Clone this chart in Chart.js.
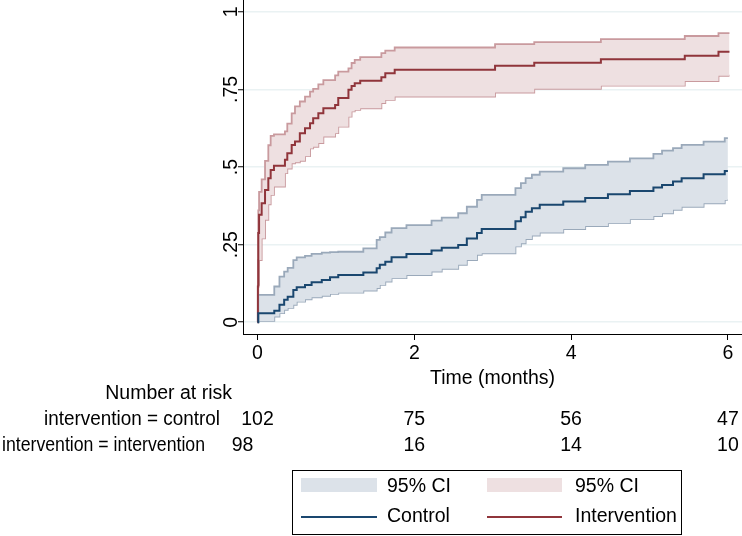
<!DOCTYPE html>
<html>
<head>
<meta charset="utf-8">
<script src="https://cdn.jsdelivr.net/npm/chart.js@4.4.0/dist/chart.umd.min.js"></script>
<style>
  html, body { margin: 0; padding: 0; background: #fff; }
</style>
</head>
<body>
<canvas id="km" width="742" height="536"></canvas>
<script>
// Control group: cumulative incidence with 95% CI
const ctrlTime = [0, 0.01, 0.214, 0.28, 0.34, 0.385, 0.457, 0.5, 0.606, 0.69, 0.82, 0.925, 1.03, 1.35, 1.52, 1.56, 1.63, 1.71, 1.9, 2.22, 2.35, 2.56, 2.67, 2.8, 2.86, 3.29, 3.36, 3.42, 3.5, 3.6, 3.9, 4.18, 4.47, 4.75, 5.05, 5.16, 5.3, 5.41, 5.69, 5.96, 6.0];
const ctrlEst = [0, 0.029, 0.037, 0.056, 0.072, 0.082, 0.104, 0.113, 0.12, 0.129, 0.136, 0.145, 0.152, 0.16, 0.174, 0.185, 0.195, 0.209, 0.22, 0.231, 0.24, 0.249, 0.27, 0.287, 0.30, 0.325, 0.338, 0.356, 0.367, 0.378, 0.389, 0.40, 0.412, 0.423, 0.434, 0.442, 0.453, 0.464, 0.477, 0.487, 0.487];
const ctrlHi = [0, 0.088, 0.115, 0.147, 0.163, 0.175, 0.2, 0.209, 0.214, 0.22, 0.224, 0.226, 0.227, 0.238, 0.265, 0.274, 0.289, 0.303, 0.313, 0.327, 0.337, 0.351, 0.372, 0.394, 0.41, 0.432, 0.448, 0.464, 0.475, 0.485, 0.496, 0.507, 0.517, 0.528, 0.542, 0.553, 0.561, 0.571, 0.582, 0.593, 0.593];
const ctrlLo = [0, 0.004, 0.018, 0.029, 0.04, 0.046, 0.056, 0.066, 0.074, 0.08, 0.085, 0.091, 0.095, 0.102, 0.11, 0.12, 0.131, 0.142, 0.152, 0.163, 0.172, 0.185, 0.2, 0.217, 0.222, 0.244, 0.254, 0.268, 0.279, 0.289, 0.3, 0.31, 0.319, 0.332, 0.342, 0.351, 0.362, 0.372, 0.383, 0.394, 0.394];

// Intervention group
const intTime = [0, 0.005, 0.01, 0.02, 0.053, 0.096, 0.138, 0.168, 0.21, 0.35, 0.38, 0.436, 0.478, 0.54, 0.606, 0.67, 0.71, 0.776, 0.84, 0.99, 1.03, 1.16, 1.2, 1.24, 1.31, 1.58, 1.63, 1.75, 3.03, 3.53, 4.38, 5.45, 5.88, 6.02];
const intEst = [0, 0.115, 0.287, 0.346, 0.383, 0.426, 0.464, 0.49, 0.504, 0.523, 0.544, 0.571, 0.582, 0.609, 0.625, 0.641, 0.657, 0.673, 0.689, 0.70, 0.722, 0.749, 0.761, 0.77, 0.778, 0.789, 0.802, 0.813, 0.826, 0.836, 0.847, 0.858, 0.871, 0.871];
const intHi = [0, 0.2, 0.36, 0.42, 0.46, 0.52, 0.57, 0.6, 0.605, 0.615, 0.64, 0.673, 0.695, 0.711, 0.727, 0.743, 0.752, 0.766, 0.78, 0.795, 0.807, 0.818, 0.835, 0.845, 0.854, 0.867, 0.875, 0.885, 0.896, 0.902, 0.912, 0.922, 0.931, 0.931];
const intLo = [0, 0.03, 0.12, 0.2, 0.27, 0.33, 0.38, 0.41, 0.437, 0.48, 0.495, 0.512, 0.515, 0.52, 0.535, 0.56, 0.565, 0.577, 0.598, 0.609, 0.63, 0.662, 0.679, 0.684, 0.689, 0.706, 0.716, 0.727, 0.74, 0.752, 0.762, 0.777, 0.794, 0.794];

const xTicks = [0, 2, 4, 6];
const yTicks = [0, 0.25, 0.5, 0.75, 1];
const yTickLabels = ['0', '.25', '.5', '.75', '1'];
const xTitle = 'Time (months)';

const riskTitle = 'Number at risk';
const riskLabels = ['intervention = control', 'intervention = intervention'];
const riskCtrl = [102, 75, 56, 47];
const riskInt = [98, 16, 14, 10];
const legendLabels = ['95% CI', '95% CI', 'Control', 'Intervention'];

const NAVY = '#1a476f';
const MAROON = '#90353b';
const NAVY_CI = '#9aa9ba';
const NAVY_FILL = '#dce2e9';
const MAROON_CI = '#c99a9e';
const MAROON_FILL = '#eee0e1';
const FAMILY = '"Liberation Sans", Arial, Helvetica, sans-serif';
const FONT = '19.5px ' + FAMILY;

const pts = (t, v) => t.map((x, i) => ({ x, y: v[i] }));

const lineDs = (data, color, width, extra) => Object.assign({
    data,
    borderColor: color,
    borderWidth: width,
    stepped: true,
    pointRadius: 0,
    tension: 0,
    fill: false,
}, extra);

// y tick labels, risk table and legend, drawn in Stata style
const extras = {
    id: 'extras',
    afterDraw(chart) {
        const { ctx } = chart;
        const x = chart.scales.x;
        const y = chart.scales.y;
        ctx.save();
        ctx.fillStyle = '#000';
        ctx.font = FONT;
        ctx.textBaseline = 'middle';

        // vertical y tick labels
        ctx.textAlign = 'center';
        yTicks.forEach((v, i) => {
            ctx.save();
            ctx.translate(x.left - 11, y.getPixelForValue(v));
            ctx.rotate(-Math.PI / 2);
            ctx.fillText(yTickLabels[i], 0, 0);
            ctx.restore();
        });

        // axis title
        ctx.fillText(xTitle, (x.left + x.right) / 2, 379);

        // number at risk (row labels are a touch narrower in the original)
        ctx.textAlign = 'right';
        ctx.fillText(riskTitle, 232, 394);
        ctx.fillText(riskLabels[0], 220, 420, 176);
        ctx.fillText(riskLabels[1], 205, 446, 203);
        ctx.textAlign = 'center';
        xTicks.forEach((t, i) => {
            const px = x.getPixelForValue(t);
            ctx.fillText(String(riskCtrl[i]), px, 420);
            ctx.fillText(String(riskInt[i]), i === 0 ? px - 15 : px, 446);
        });

        // legend
        ctx.strokeStyle = '#000';
        ctx.lineWidth = 1;
        ctx.strokeRect(292.5, 470.5, 389, 64);
        ctx.fillStyle = NAVY_FILL;
        ctx.fillRect(301, 478, 76, 14);
        ctx.fillStyle = MAROON_FILL;
        ctx.fillRect(487, 478, 75, 14);
        ctx.lineWidth = 2;
        ctx.strokeStyle = NAVY;
        ctx.beginPath(); ctx.moveTo(301, 517); ctx.lineTo(377, 517); ctx.stroke();
        ctx.strokeStyle = MAROON;
        ctx.beginPath(); ctx.moveTo(487, 517); ctx.lineTo(562, 517); ctx.stroke();
        ctx.fillStyle = '#000';
        ctx.textAlign = 'left';
        ctx.fillText(legendLabels[0], 387, 487);
        ctx.fillText(legendLabels[1], 575, 487);
        ctx.fillText(legendLabels[2], 387, 517);
        ctx.fillText(legendLabels[3], 575, 517);
        ctx.restore();
    },
};

new Chart(document.getElementById('km'), {
    type: 'line',
    data: {
        datasets: [
            lineDs(pts(ctrlTime, ctrlEst), NAVY, 2, { order: 0 }),
            lineDs(pts(intTime, intEst), MAROON, 2, { order: 0 }),
            lineDs(pts(ctrlTime, ctrlHi), NAVY_CI, 1.8, { order: 1, fill: 3, backgroundColor: NAVY_FILL }),
            lineDs(pts(ctrlTime, ctrlLo), NAVY_CI, 1.8, { order: 1 }),
            lineDs(pts(intTime, intHi), MAROON_CI, 1.8, { order: 2, fill: 5, backgroundColor: MAROON_FILL }),
            lineDs(pts(intTime, intLo), MAROON_CI, 1.8, { order: 2 }),
        ],
    },
    options: {
        responsive: false,
        animation: false,
        events: [],
        layout: { padding: 0 },
        plugins: {
            legend: { display: false },
            tooltip: { enabled: false },
        },
        scales: {
            x: {
                type: 'linear',
                min: -0.185,
                max: 6.18,
                afterBuildTicks: (s) => { s.ticks = xTicks.map((v) => ({ value: v })); },
                afterFit: (s) => { s.height = 202; },
                ticks: {
                    color: '#000',
                    font: { family: FAMILY, size: 19.5 },
                    padding: 2,
                    maxRotation: 0,
                    callback: (v) => String(v),
                },
                grid: { drawOnChartArea: false, tickLength: 6, tickColor: '#000', tickWidth: 1 },
                border: { display: true, color: '#000', width: 1 },
            },
            y: {
                type: 'linear',
                min: -0.038,
                max: 1.038,
                afterBuildTicks: (s) => { s.ticks = yTicks.map((v) => ({ value: v })); },
                afterFit: (s) => { s.width = 243; },
                ticks: { display: false },
                grid: { color: '#eaf2f3', lineWidth: 1.5, tickLength: 5, tickColor: '#000', tickWidth: 1 },
                border: { display: true, color: '#000', width: 1 },
            },
        },
    },
    plugins: [extras],
});
</script>
</body>
</html>
